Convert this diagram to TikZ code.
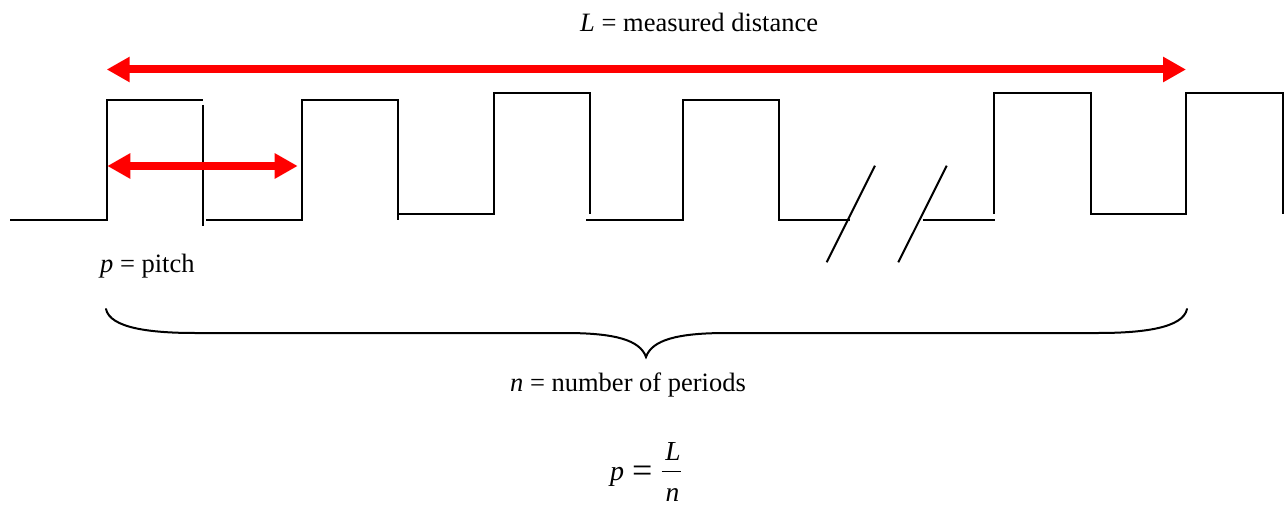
\documentclass[tikz,border=0pt]{standalone}
\usepackage{fontspec}
\setmainfont{Liberation Serif}
\usetikzlibrary{arrows.meta}
\tikzset{
  wave/.style={line width=2pt, line join=miter, line cap=butt},
  redarrow/.style={draw={rgb,255:red,255;green,0;blue,0}, line width=8pt,
    {Triangle[length=23pt,width=24pt]}-{Triangle[length=23pt,width=24pt]}},
  lbl/.style={inner sep=0pt, font=\fontsize{26.5}{30}\selectfont},
  brace/.style={line width=2pt, line cap=round}
}
\begin{document}
\begin{tikzpicture}[x=1pt,y=-1pt]
\useasboundingbox (0,0) rectangle (1287,505);
% waveform
\draw[wave] (10,220) -- (107,220) -- (107,100) -- (203,100);
\draw[wave] (203,105) -- (203,226);
\draw[wave] (206,220) -- (302,220) -- (302,100) -- (398,100) -- (398,220);
\draw[wave] (398,214) -- (494,214) -- (494,93.5) -- (590,93.5) -- (590,214);
\draw[wave] (586,220) -- (683,220) -- (683,100) -- (779,100) -- (779,220) -- (850,220);
\draw[wave] (826.7,262.3) -- (875,165.7);
\draw[wave] (898.3,262.3) -- (946.7,165.7);
\draw[wave] (922.7,220) -- (995,220);
\draw[wave] (994,214) -- (994,93.5) -- (1091,93.5) -- (1091,214) -- (1186,214) -- (1186,93.5) -- (1283,93.5) -- (1283,214);
% arrows
\coordinate (Ls) at (106.7,69.5);
\coordinate (Le) at (1186,69.5);
\coordinate (ps) at (107.3,166);
\coordinate (pe) at (297.7,166);
\draw[redarrow] (Ls) -- (Le);
\draw[redarrow] (ps) -- (pe);
% brace
\coordinate (bl) at (106,309);
\coordinate (bm) at (646,357);
\coordinate (br) at (1187,309);
\draw[brace] (bl) .. controls (110,328) and (150,333) .. (195,333) -- (565,333)
  .. controls (615,333) and (640,340) .. (bm)
  .. controls (652,340) and (677,333) .. (727,333) -- (1098,333)
  .. controls (1143,333) and (1183,328) .. (br);
% labels
\node[lbl, anchor=base west] (Ltext) at (580,31.7) {\textit{L} = measured distance};
\node[lbl, anchor=base west] (ptext) at (100,272.3) {\textit{p} = pitch};
\node[lbl, anchor=base west] (ntext) at (510,391.7) {\textit{n} = number of periods};
% formula
\node[inner sep=0pt, font=\fontsize{28}{32}\selectfont, anchor=base west] (fp) at (610,480) {\textit{p}};
\node[inner sep=0pt, font=\fontsize{36}{40}\selectfont, anchor=base west] (feq) at (632,482.8) {=};
\node[inner sep=0pt, font=\fontsize{27.5}{32}\selectfont, anchor=base] (fL) at (673,460) {\textit{L}};
\node[inner sep=0pt, font=\fontsize{27.5}{32}\selectfont, anchor=base] (fn) at (672.5,501) {\textit{n}};
\coordinate (fb1) at (661.5,471.7);
\coordinate (fb2) at (681,471.7);
\draw[line width=1.3pt] (fb1) -- (fb2);
\end{tikzpicture}
\end{document}
